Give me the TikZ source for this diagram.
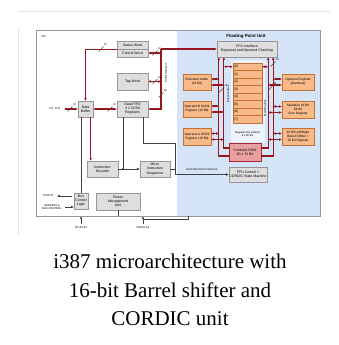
\documentclass[tikz,border=0pt]{standalone}
\usepackage{fontspec}
\setmainfont{Liberation Serif}
\setsansfont{Liberation Sans}
\usetikzlibrary{calc,arrows.meta}

\definecolor{fpublue}{RGB}{214,228,247}
\definecolor{busred}{RGB}{150,22,32}
\definecolor{orfill}{RGB}{248,186,136}
\definecolor{ordraw}{RGB}{196,112,52}
\definecolor{gyfill}{RGB}{222,222,222}
\definecolor{gydraw}{RGB}{150,150,150}
\definecolor{romfill}{RGB}{234,160,160}
\definecolor{romdraw}{RGB}{170,40,50}

% bus width mark: position, width
\newcommand{\wslash}[2]{\draw[width mark] (#1) ++(-2.5,2.5) -- ++(5,-5) node[width label] {#2};}

\begin{document}
\begin{tikzpicture}[
    x=1pt, y=-1pt,
    every node/.style={font=\sffamily\fontsize{3.5}{4.1}\selectfont},
    gray node/.style={rectangle, draw=gydraw, fill=gyfill, align=center, inner sep=0.5pt},
    orange node/.style={rectangle, draw=ordraw, fill=orfill, align=center, inner sep=0.3pt, font=\sffamily\fontsize{3.2}{3.8}\selectfont},
    rom node/.style={rectangle, draw=romdraw, fill=romfill, align=center, inner sep=0.5pt},
    stack row/.style={rectangle, draw=ordraw, fill=orfill, minimum width=29pt, minimum height=7.5pt, inner sep=0.5pt, text width=27pt, align=left},
    tiny text/.style={font=\sffamily\fontsize{2.7}{3.2}\selectfont},
    red edge/.style={draw=busred, line width=1.1pt},
    dark edge/.style={draw=black!75, line width=0.6pt},
    one way/.style={-{Latex[length=2.6pt,width=2.6pt]}},
    back way/.style={{Latex[length=2.6pt,width=2.6pt]}-},
    two way/.style={{Latex[length=2.6pt,width=2.6pt]}-{Latex[length=2.6pt,width=2.6pt]}},
    width mark/.style={draw=black!70, line width=0.4pt},
    width label/.style={font=\sffamily\fontsize{2.6}{3}\selectfont, anchor=south west, inner sep=0.3pt}
]
\useasboundingbox (0,0) rectangle (339,345);

% faint frame of the figure
\draw[gray!20, line width=0.6pt] (18,11) -- (330,11);
\draw[gray!20, line width=0.6pt] (18,28) -- (18,235);

% chip and floating point area
\fill[fpublue] (177,30) rectangle (320,216);
\node[draw=gydraw, line width=0.7pt, minimum width=284pt, minimum height=186pt] (chip) at (178,123) {};
\node[anchor=north west, tiny text] (chipname) at (38,32) {387};
\node[font=\sffamily\bfseries\fontsize{4.4}{5}\selectfont] (fputitle) at (246,36) {Floating Point Unit};

% integer side blocks
\node[gray node, minimum width=31pt, minimum height=8pt] (sw) at (132.5,45) {Status Word};
\node[gray node, minimum width=31pt, minimum height=8pt] (cw) at (132.5,53) {Control Word};
\node[gray node, minimum width=31pt, minimum height=17pt] (tw) at (132.5,81.5) {Tag Word};
\node[gray node, minimum width=15pt, minimum height=16pt] (db) at (85.5,109) {Data\\Buffer};
\node[gray node, minimum width=31pt, minimum height=16pt] (fifo) at (132.5,109) {Data FIFO\\3 x 32 Bit\\Registers};
\node[tiny text] (dbus) at (55,109) {D0 - D31};
\node[gray node, minimum width=31pt, minimum height=16pt] (idec) at (102.5,169) {Instruction\\Decoder};
\node[gray node, minimum width=30pt, minimum height=16pt] (mis) at (155,169) {Micro\\Instruction\\Sequencer};
\node[gray node, minimum width=14pt, minimum height=16pt] (bcl) at (81,201) {Bus\\Control\\Logic};
\node[gray node, minimum width=44pt, minimum height=17pt] (pmu) at (118,201.5) {Power\\Management\\Unit};
\node[tiny text, anchor=east] (stat) at (57,196) {STATUS};
\node[tiny text, align=center] (addr) at (52,207) {ADDRESS \&\\BUS CONTROL};
\node[tiny text] (cpuclk) at (81,228) {CPUCLK2};
\node[tiny text] (numclk) at (143,228) {NUMCLK2};

% floating point unit blocks
\node[gray node, minimum width=60pt, minimum height=16pt] (fpuif) at (247,49) {FPU Interface\\Exponent and Operand Checking};
\node[orange node, minimum width=28pt, minimum height=16pt] (expadd) at (197,82) {Exponent Adder\\(16 Bit)};
\node[orange node, minimum width=28pt, minimum height=16pt] (opb) at (197,109) {Operand B 80-Bit\\Register (16 Bit)};
\node[orange node, minimum width=28pt, minimum height=17pt] (opa) at (197,136.5) {Operand A 80-Bit\\Register (16 Bit)};
\node[orange node, minimum width=32pt, minimum height=16pt] (opreg) at (298,82) {Operand Register\\(Mantissa)};
\node[orange node, minimum width=32pt, minimum height=17pt] (mult) at (298,109.5) {Multiplier 16 Bit\\64 Bit\\Sum Register};
\node[orange node, minimum width=32pt, minimum height=17pt] (barrel) at (298,136.5) {16 Bit Left/Right\\Barrel Shifter +\\16 Bit Register};

\node[fill=white!55!fpublue, minimum width=34pt, minimum height=82pt] (regfile) at (247.5,101) {};
\foreach \r in {0,...,7}
  \node[stack row] (reg\r) at (247.5,{66.75+7.5*\r}) {(\r)};
\node[align=center, tiny text] (regl) at (247.5,134) {Register File (Stack)\\8 x 80 Bit};
\node[rom node, minimum width=32pt, minimum height=18pt] (rom) at (245,152) {Constant ROM\\40 x 72 Bit};
\node[gray node, minimum width=38pt, minimum height=15pt] (fpuc) at (248,174.5) {FPU Control +\\CORDIC State Machine};
\node[font=\sffamily\fontsize{2.5}{3}\selectfont] (mib) at (202,170) {MICROINSTRUCTION BUS};

\node[tiny text, rotate=90] (dbl) at (166,73) {80-Bit Data Bus};
\node[tiny text, rotate=90] (expbus) at (228.5,94) {Exponent Bus};
\node[tiny text, rotate=90] (manbus) at (265,108) {Mantissa Bus};

% data bus
\coordinate (bt) at (161,49);
\draw[red edge, one way] (bt) |- (fifo.east);
\draw[red edge, one way] (bt) -- (fpuif.west);
\draw[red edge, two way] (cw.east) -- (cw.east -| bt);
\draw[red edge, two way] (tw.east) -- (tw.east -| bt);
\draw[red edge, one way] (sw.south west) -| (db.north);
\draw[red edge, two way] (dbus.east) -- (db.west);
\draw[red edge, two way] (db.east) -- (fifo.west);
\wslash{101,49}{16}
\wslash{155,53}{16}
\wslash{155,81.5}{16}
\wslash{161,95}{80}
\wslash{70,109}{32}
\wslash{110,109}{32}

% control paths
\coordinate (dbo) at ($(db.south east)+(-2.5,0)$);
\coordinate (fa) at ($(fifo.south west)+(6,0)$);
\coordinate (fb) at ($(fifo.south east)+(-5,0)$);
\coordinate (mj) at (175,143);
\draw[dark edge] (bcl.north) -- (bcl.north |- db.south);
\draw[red edge, one way] (dbo) -- (dbo |- idec.north);
\draw[dark edge, one way] (idec.east) -- (mis.west);
\draw[dark edge] (fa) -- (fa |- idec.east);
\fill[black!75] (fa |- idec.east) circle (1pt);
\draw[dark edge] (fb) |- (mj) -- (mj |- fpuc.west);
\draw[dark edge] (mis.east) -- (mis.east -| mj);
\draw[dark edge, one way] (mj |- fpuc.west) -- (fpuc.west);

% pins
\coordinate (nc) at (numclk.north |- chip.south);
\draw[dark edge] (pmu.south) -- (pmu.south |- chip.south);
\draw[dark edge, one way] (cpuclk.north) -- (cpuclk.north |- chip.south);
\draw[dark edge, one way] (numclk.north) -- (nc);
\draw[dark edge] ($(nc)+(0,3)$) -| ($(chip.south)+(10,0)$);
\draw[dark edge, one way, shorten <=2pt] ($(bcl.west)+(0,-5)$) -- (stat.east);
\draw[dark edge, one way] (addr.east) -- (addr.east -| bcl.west);

% exponent and mantissa buses
\coordinate (la) at ($(fpuif.south west)+(2,0)$);
\coordinate (lb) at ($(fpuif.south west)+(7,0)$);
\coordinate (ra) at ($(fpuif.south east)+(-4,0)$);
\coordinate (rb) at ($(fpuif.south east)+(-9,0)$);
\draw[red edge, back way] (la) |- ($(rom.west)+(0,4)$);
\draw[red edge, back way] (lb) |- ($(rom.west)+(0,-4)$);
\draw[red edge, back way] (ra) |- ($(rom.east)+(0,4)$);
\draw[red edge, back way] (rb) |- ($(rom.east)+(0,-4)$);
\foreach \b in {expadd,opb,opa} {
  \coordinate (\b1) at ($(\b.east)+(0,-3)$);
  \coordinate (\b2) at ($(\b.east)+(0,3)$);
  \draw[red edge, two way] (\b1) -- (\b1 -| la);
  \draw[red edge, two way] (\b2) -- (\b2 -| lb);
}
\foreach \b in {opreg,mult,barrel} {
  \coordinate (\b1) at ($(\b.west)+(0,-3)$);
  \coordinate (\b2) at ($(\b.west)+(0,3)$);
  \draw[red edge, two way] (\b1) -- (\b1 -| ra);
  \draw[red edge, two way] (\b2) -- (\b2 -| rb);
}
\draw[red edge, two way] (reg0.west -| lb) -- (reg0.west);
\draw[red edge, two way] (reg0.east) -- (reg0.east -| rb);
\wslash{221.5,90}{16}
\wslash{273,64}{64}
\wslash{270.5,88}{64}

% caption
\node[font=\rmfamily\fontsize{21}{28.5}\selectfont, align=center] (cap) at (170,290) {i387 microarchitecture with\\16-bit Barrel shifter and\\CORDIC unit};

\end{tikzpicture}
\end{document}
